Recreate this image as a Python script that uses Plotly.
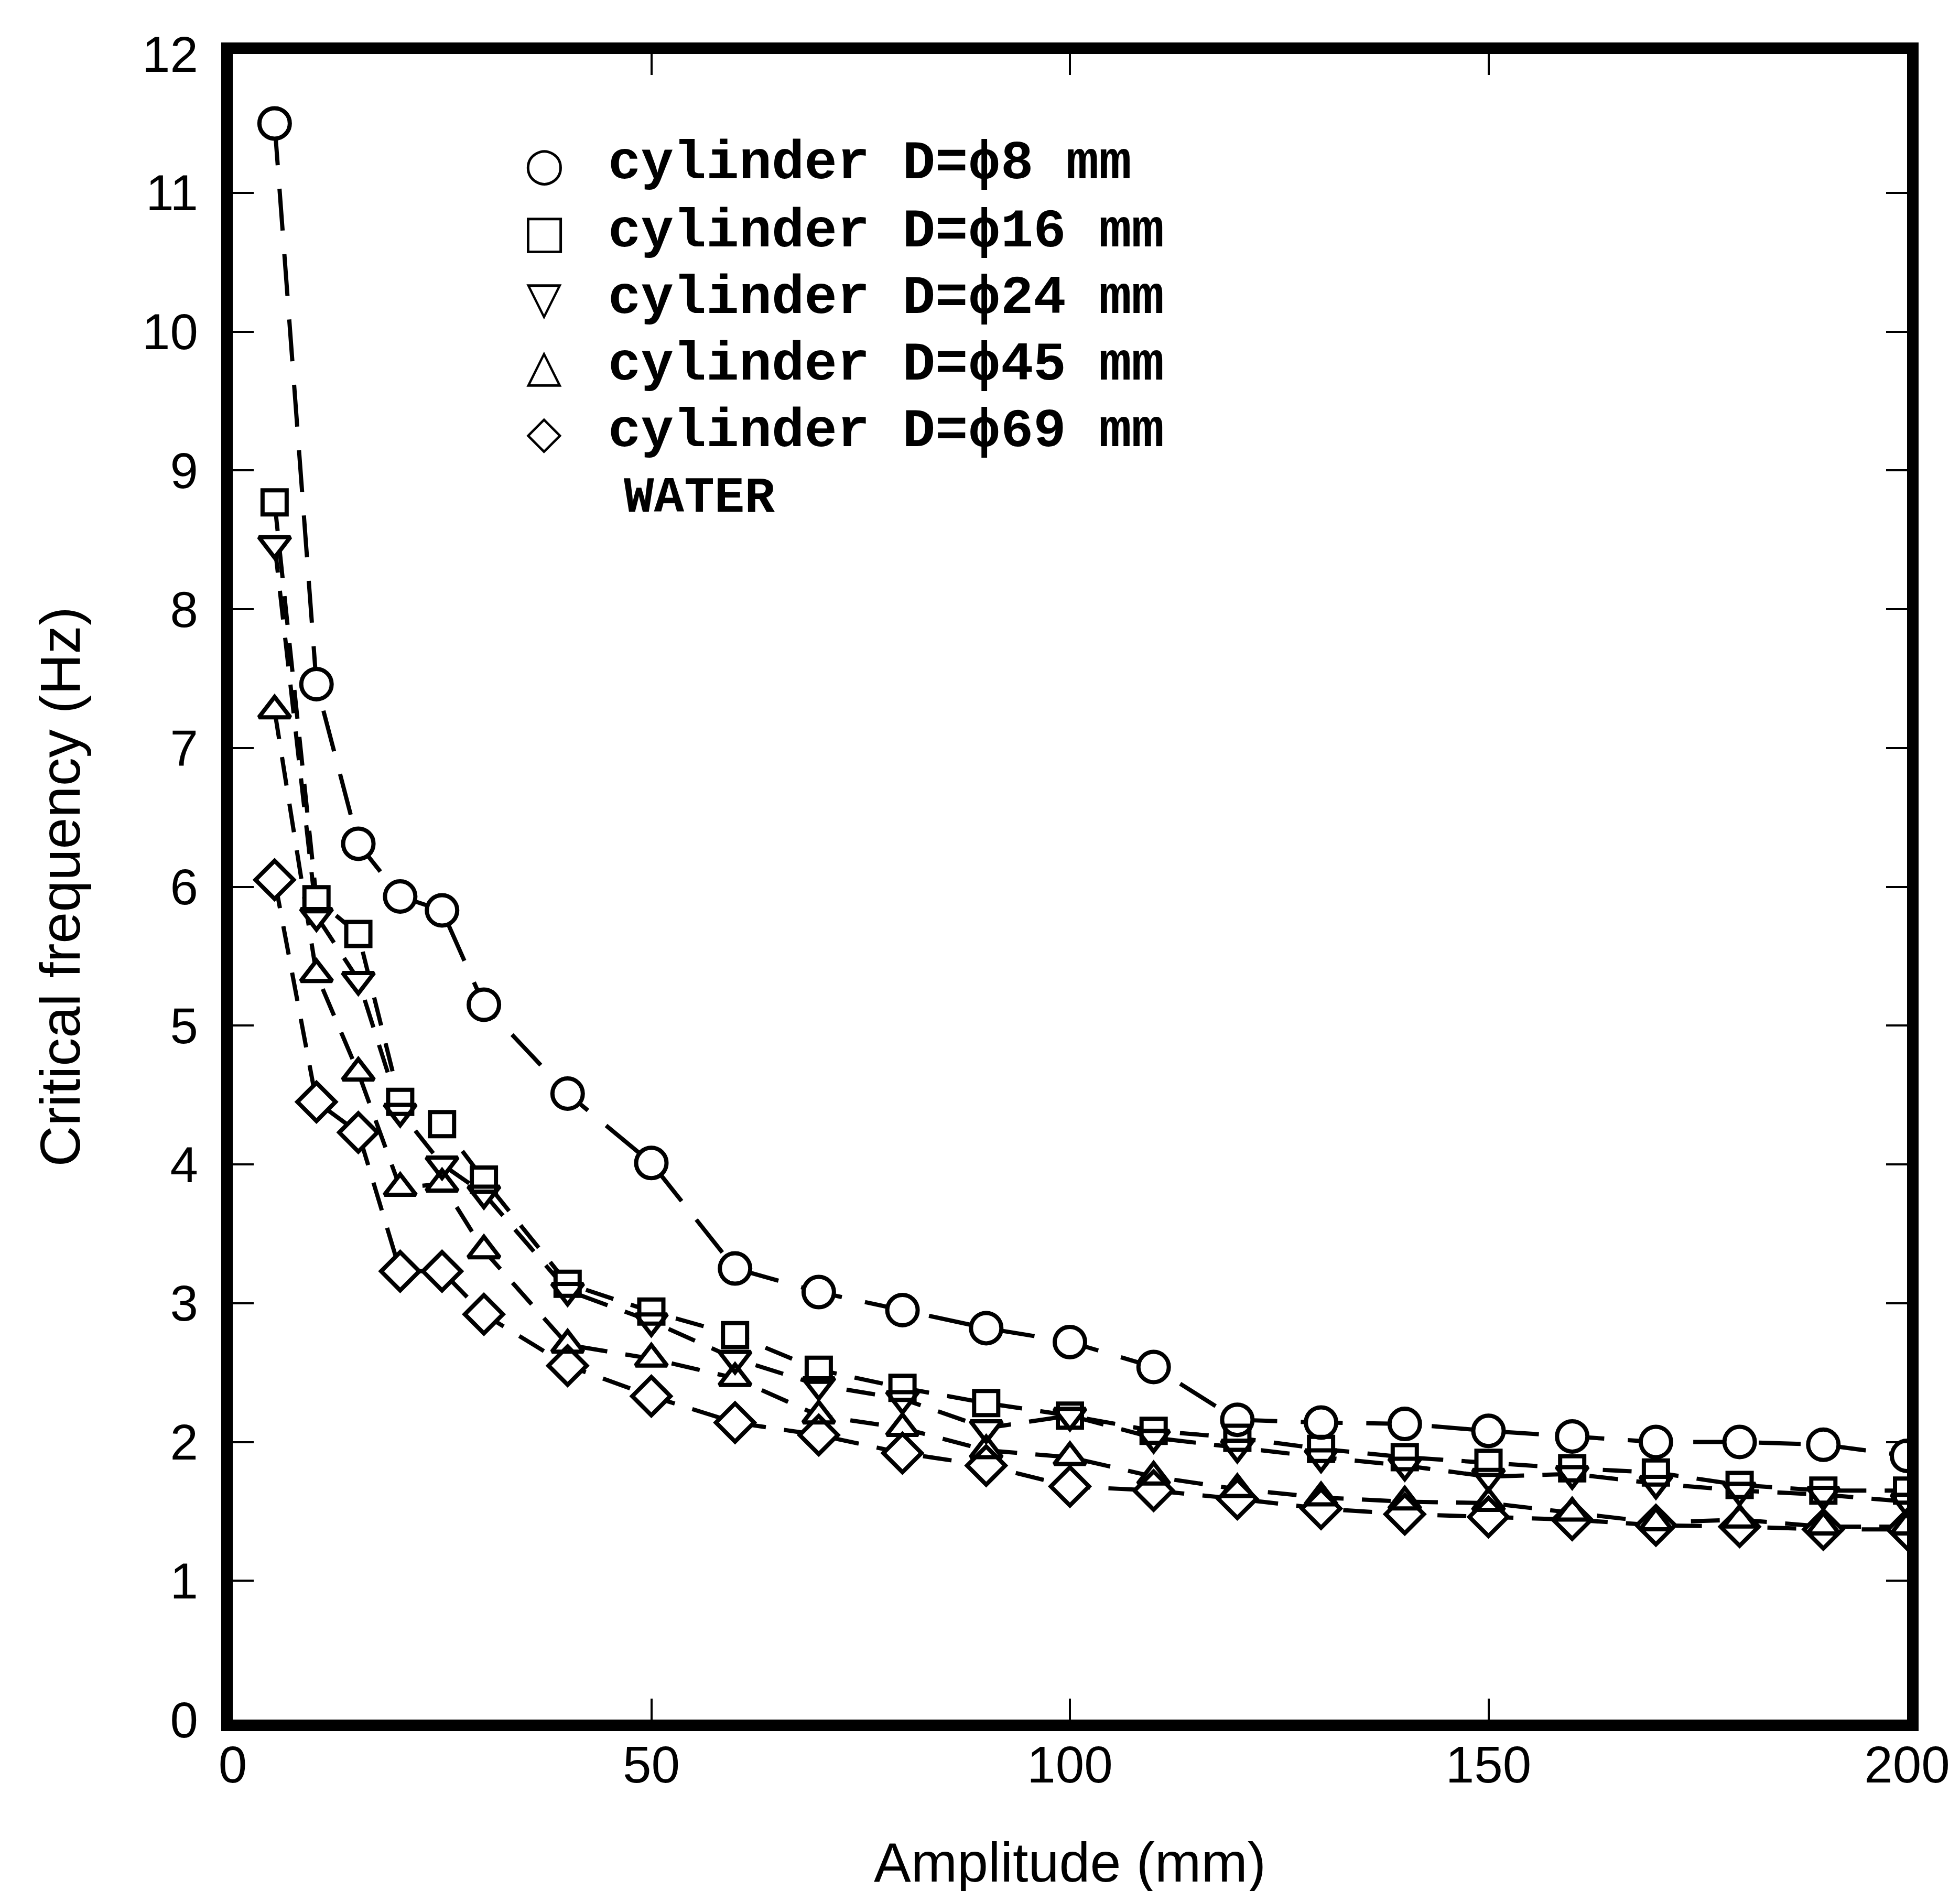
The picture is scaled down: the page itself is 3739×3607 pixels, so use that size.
import plotly.graph_objects as go

amplitude = [5, 10, 15, 20, 25, 30, 40, 50, 60, 70, 80, 90, 100, 110, 120, 130, 140, 150, 160, 170, 180, 190, 200]
d8 = [11.5, 7.46, 6.31, 5.93, 5.83, 5.15, 4.51, 4.01, 3.25, 3.08, 2.95, 2.82, 2.72, 2.54, 2.16, 2.14, 2.13, 2.08, 2.04, 2.0, 2.0, 1.98, 1.90]
d16 = [8.77, 5.91, 5.66, 4.45, 4.29, 3.89, 3.14, 2.94, 2.77, 2.52, 2.39, 2.28, 2.19, 2.08, 2.03, 1.95, 1.89, 1.85, 1.81, 1.78, 1.69, 1.65, 1.65]
d24 = [8.47, 5.79, 5.33, 4.38, 4.0, 3.79, 3.09, 2.87, 2.6, 2.41, 2.31, 2.1, 2.19, 2.03, 1.96, 1.89, 1.83, 1.75, 1.77, 1.70, 1.65, 1.62, 1.57]
d45 = [7.27, 5.37, 4.66, 3.83, 3.86, 3.38, 2.70, 2.6, 2.46, 2.19, 2.1, 1.94, 1.89, 1.75, 1.66, 1.6, 1.57, 1.56, 1.49, 1.42, 1.44, 1.39, 1.39]
d69 = [6.05, 4.45, 4.23, 3.23, 3.23, 2.92, 2.55, 2.33, 2.14, 2.05, 1.92, 1.83, 1.68, 1.65, 1.59, 1.52, 1.48, 1.46, 1.44, 1.40, 1.39, 1.37, 1.37]

series_names = ["cylinder D=\u03d58 mm", "cylinder D=\u03d516 mm", "cylinder D=\u03d524 mm",
                "cylinder D=\u03d545 mm", "cylinder D=\u03d569 mm"]
series_values = [d8, d16, d24, d45, d69]
symbols = ["circle", "square", "triangle-down", "triangle-up", "diamond"]
legend_glyphs = ["\u25cb", "\u25a1", "\u25bd", "\u25b3", "\u25c7"]
sizes = [58, 46, 52, 52, 56]
dashes = ["80px,45px", "55px,35px", "55px,35px", "55px,35px", "55px,35px"]

fig = go.Figure()
for vals, dash in zip(series_values, dashes):
    fig.add_trace(go.Scatter(x=amplitude, y=vals, mode="lines",
                             line=dict(color="black", width=8, dash=dash),
                             showlegend=False, hoverinfo="skip"))
for vals, sym, sz in zip(series_values, symbols, sizes):
    fig.add_trace(go.Scatter(x=amplitude, y=vals, mode="markers",
                             marker=dict(symbol=sym, size=sz, color="white",
                                         line=dict(width=0)),
                             showlegend=False, hoverinfo="skip"))
for vals, sym, sz, name in zip(series_values, symbols, sizes, series_names):
    fig.add_trace(go.Scatter(x=amplitude, y=vals, mode="markers", name=name,
                             marker=dict(symbol=sym + "-open", size=sz, color="black",
                                         line=dict(width=8, color="black")),
                             showlegend=False))

leg_y = [11.21, 10.72, 10.24, 9.76, 9.28]
for g, name, yy in zip(legend_glyphs, series_names, leg_y):
    fig.add_annotation(x=37.2, y=yy, xref="x", yref="y", text="<b>" + g + "</b>", showarrow=False,
                       font=dict(family="DejaVu Sans", size=88, color="black"),
                       xanchor="center", yanchor="middle")
    fig.add_annotation(x=44.7, y=yy, xref="x", yref="y", text="<b>" + name + "</b>", showarrow=False,
                       font=dict(family="Liberation Mono", size=104, color="black"),
                       xanchor="left", yanchor="middle")
fig.add_annotation(x=46.6, y=8.8, xref="x", yref="y", text="<b>WATER</b>", showarrow=False,
                   font=dict(family="Liberation Mono", size=96, color="black"),
                   xanchor="left", yanchor="middle")

fig.update_layout(
    width=3739, height=3607,
    paper_bgcolor="white", plot_bgcolor="white",
    margin=dict(l=436, r=109, t=95, b=335),
    showlegend=False,
)
fig.update_xaxes(
    range=[0, 200], tickvals=[0, 50, 100, 150, 200],
    ticks="inside", ticklen=40, tickwidth=4, tickcolor="black",
    showline=True, linewidth=22, linecolor="black", mirror="ticks",
    showgrid=False, zeroline=False,
    tickfont=dict(family="Liberation Sans", size=98, color="black"),
    ticklabelstandoff=-20,
    title=dict(text="Amplitude (mm)", font=dict(family="Liberation Sans", size=106, color="black"), standoff=105),
)
fig.update_yaxes(
    range=[0, 12], dtick=1,
    ticks="inside", ticklen=40, tickwidth=4, tickcolor="black",
    showline=True, linewidth=22, linecolor="black", mirror="ticks",
    showgrid=False, zeroline=False,
    tickfont=dict(family="Liberation Sans", size=96, color="black"),
    ticklabelstandoff=25,
    title=dict(text="Critical frequency (Hz)", font=dict(family="Liberation Sans", size=108, color="black"), standoff=92),
)

fig.write_html("out.html")
